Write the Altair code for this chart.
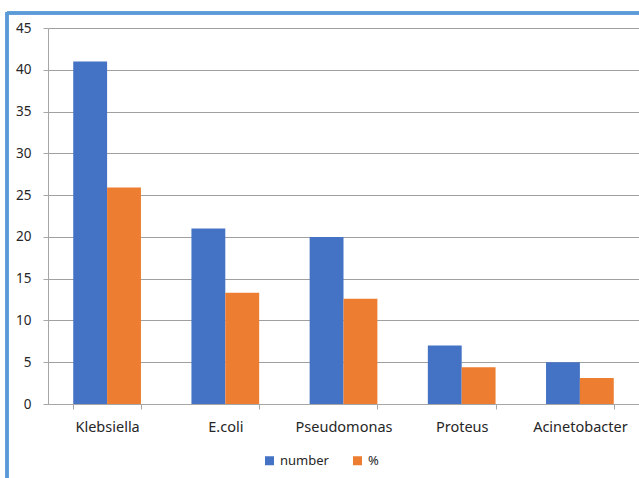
import altair as alt
import pandas as pd

categories = ["Klebsiella", "E.coli", "Pseudomonas", "Proteus", "Acinetobacter"]
number_vals = [41, 21, 20, 7, 5]
percent_vals = [25.9, 13.3, 12.6, 4.4, 3.1]
series_names = ["number", "%"]
y_ticks = [0, 5, 10, 15, 20, 25, 30, 35, 40, 45]

rows = []
for c, n, p in zip(categories, number_vals, percent_vals):
    rows.append({"cat": c, "series": "number", "value": n})
    rows.append({"cat": c, "series": "%", "value": p})
df = pd.DataFrame(rows)

FONT = "Noto Sans"

bars = alt.Chart(df).mark_bar().encode(
    x=alt.X("cat:N", sort=categories, title=None,
            scale=alt.Scale(paddingInner=0.427, paddingOuter=0.2135),
            axis=alt.Axis(labelAngle=0, bandPosition=0, tickBand="extent",
                          domainColor="#a6a6a6", tickColor="#a6a6a6", tickSize=5,
                          labelPadding=11, labelFontSize=14.5, labelColor="#262626",
                          labelFont=FONT, grid=False)),
    xOffset=alt.XOffset("series:N", sort=series_names),
    y=alt.Y("value:Q", title=None,
            scale=alt.Scale(domain=[0, 45], nice=False),
            axis=alt.Axis(values=y_ticks, domainColor="#a6a6a6", tickColor="#a6a6a6",
                          tickSize=5, labelPadding=12, labelFontSize=13.5,
                          labelColor="#262626", labelFont=FONT,
                          gridColor="#a0a0a0", gridWidth=1)),
    color=alt.Color("series:N", sort=series_names,
                    scale=alt.Scale(domain=series_names, range=["#4472c4", "#ed7d31"]),
                    legend=alt.Legend(title=None, orient="none", direction="horizontal",
                                      legendX=215, legendY=426, symbolType="square",
                                      symbolSize=81, symbolStrokeWidth=0,
                                      labelFontSize=13, labelFont=FONT,
                                      labelColor="#262626", columnPadding=22,
                                      labelOffset=4)),
)

frame_top = alt.Chart(df).mark_rule(color="#5b9bd5", strokeWidth=2.5, clip=False).encode(
    x=alt.value(-41), x2=alt.value(600), y=alt.value(-15)
)
frame_left = alt.Chart(df).mark_rule(color="#5b9bd5", strokeWidth=2.5, clip=False).encode(
    x=alt.value(-41), y=alt.value(-16), y2=alt.value(460)
)

chart = alt.layer(bars, frame_top, frame_left).properties(
    width=591, height=376,
    padding={"left": 48, "top": 28, "right": 0, "bottom": 74},
    autosize=alt.AutoSizeParams(type="none"),
).configure_view(stroke=None).configure(background="white")

chart.save("out.html", embed_options={"renderer": "svg", "actions": False})
